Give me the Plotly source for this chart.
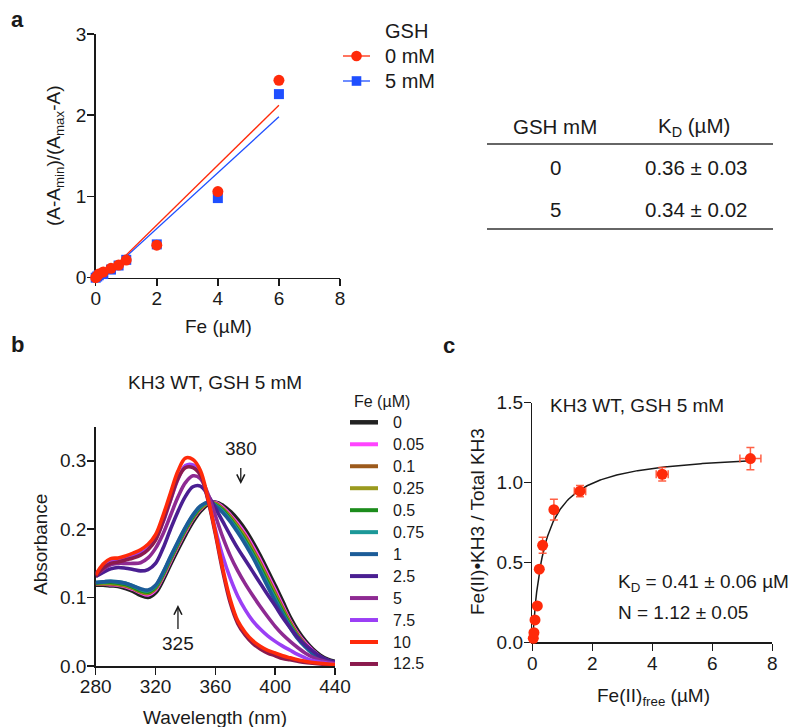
import numpy as np
import plotly.graph_objects as go

W, H = 790, 727


def PX(x):
    return x / W


def PY(y):
    return 1 - y / H


FONT = "Liberation Sans, Arial, Helvetica, sans-serif"
INK = "#1a1a1a"
RED = "#ff2a0a"
BLUE = "#1f4fff"

# ---------------- panel a : linearised titration ----------------
fe_titration = [0, 0.05, 0.1, 0.25, 0.5, 0.75, 1, 2, 4, 6]
ratio_gsh0 = [0.0, 0.02, 0.045, 0.07, 0.115, 0.156, 0.217, 0.40, 1.06, 2.43]
ratio_gsh5 = [0.0, 0.015, 0.03, 0.045, 0.10, 0.15, 0.22, 0.41, 0.98, 2.26]
gsh_legend = ["0 mM", "5 mM"]

# ---------------- table ----------------
table_headers = ["GSH mM", "K<sub>D</sub> (µM)"]
table_gsh = ["0", "5"]
table_kd = ["0.36 ± 0.03", "0.34 ± 0.02"]

# ---------------- panel b : spectra ----------------
wavelength = list(range(280, 441, 5))
abs_0 = [0.119, 0.119, 0.118, 0.117, 0.114, 0.110, 0.104, 0.101, 0.108, 0.127, 0.150, 0.172, 0.193, 0.212, 0.227, 0.237, 0.239,
         0.234, 0.225, 0.213, 0.198, 0.180, 0.160, 0.138, 0.116, 0.093, 0.070, 0.051, 0.036, 0.024, 0.015, 0.009, 0.006]
abs_0p05 = [0.120, 0.120, 0.119, 0.118, 0.116, 0.112, 0.107, 0.104, 0.111, 0.130, 0.153, 0.175, 0.196, 0.215, 0.229, 0.238, 0.239,
            0.232, 0.221, 0.208, 0.193, 0.175, 0.155, 0.133, 0.111, 0.088, 0.066, 0.048, 0.034, 0.023, 0.014, 0.008, 0.005]
abs_0p1 = [0.120, 0.120, 0.120, 0.119, 0.117, 0.113, 0.108, 0.106, 0.113, 0.132, 0.155, 0.177, 0.198, 0.216, 0.230, 0.238, 0.238,
           0.230, 0.219, 0.205, 0.190, 0.171, 0.151, 0.129, 0.107, 0.085, 0.064, 0.046, 0.032, 0.021, 0.013, 0.008, 0.005]
abs_0p25 = [0.121, 0.121, 0.121, 0.120, 0.118, 0.114, 0.109, 0.107, 0.114, 0.133, 0.156, 0.178, 0.199, 0.217, 0.231, 0.238, 0.237,
            0.229, 0.217, 0.203, 0.187, 0.168, 0.148, 0.126, 0.104, 0.082, 0.062, 0.044, 0.031, 0.020, 0.012, 0.007, 0.005]
abs_0p5 = [0.121, 0.122, 0.122, 0.121, 0.119, 0.115, 0.110, 0.108, 0.115, 0.134, 0.157, 0.179, 0.200, 0.218, 0.232, 0.239, 0.236,
           0.228, 0.215, 0.200, 0.184, 0.165, 0.145, 0.123, 0.101, 0.080, 0.060, 0.043, 0.030, 0.020, 0.012, 0.007, 0.005]
abs_0p75 = [0.122, 0.123, 0.124, 0.123, 0.121, 0.117, 0.112, 0.110, 0.117, 0.136, 0.159, 0.181, 0.202, 0.220, 0.233, 0.239, 0.235,
            0.226, 0.213, 0.198, 0.181, 0.162, 0.141, 0.119, 0.098, 0.077, 0.058, 0.042, 0.029, 0.019, 0.011, 0.007, 0.004]
abs_1 = [0.122, 0.123, 0.124, 0.123, 0.121, 0.117, 0.113, 0.111, 0.118, 0.137, 0.160, 0.182, 0.203, 0.221, 0.234, 0.239, 0.234,
         0.224, 0.211, 0.195, 0.178, 0.159, 0.138, 0.116, 0.095, 0.075, 0.056, 0.040, 0.028, 0.018, 0.011, 0.006, 0.004]
abs_2p5 = [0.131, 0.137, 0.142, 0.144, 0.143, 0.141, 0.139, 0.141, 0.150, 0.172, 0.200, 0.226, 0.248, 0.262, 0.263, 0.250, 0.231,
           0.211, 0.191, 0.172, 0.155, 0.138, 0.121, 0.104, 0.088, 0.071, 0.056, 0.042, 0.031, 0.022, 0.014, 0.009, 0.006]
abs_5 = [0.133, 0.141, 0.148, 0.150, 0.150, 0.150, 0.151, 0.158, 0.172, 0.193, 0.220, 0.247, 0.268, 0.278, 0.274, 0.252, 0.220,
         0.188, 0.161, 0.139, 0.120, 0.103, 0.087, 0.072, 0.058, 0.046, 0.036, 0.027, 0.019, 0.013, 0.009, 0.006, 0.004]
abs_7p5 = [0.135, 0.146, 0.154, 0.156, 0.158, 0.161, 0.165, 0.172, 0.186, 0.210, 0.242, 0.273, 0.293, 0.294, 0.280, 0.245, 0.200,
           0.160, 0.128, 0.102, 0.082, 0.066, 0.054, 0.044, 0.036, 0.029, 0.023, 0.017, 0.012, 0.008, 0.006, 0.004, 0.003]
abs_10 = [0.133, 0.149, 0.157, 0.158, 0.161, 0.165, 0.170, 0.178, 0.192, 0.220, 0.253, 0.285, 0.304, 0.302, 0.286, 0.246, 0.196,
          0.142, 0.097, 0.066, 0.049, 0.037, 0.029, 0.023, 0.019, 0.015, 0.012, 0.009, 0.007, 0.005, 0.004, 0.003, 0.002]
abs_12p5 = [0.131, 0.143, 0.150, 0.152, 0.155, 0.158, 0.162, 0.170, 0.184, 0.211, 0.243, 0.274, 0.290, 0.290, 0.279, 0.243, 0.193,
            0.138, 0.092, 0.062, 0.045, 0.033, 0.025, 0.019, 0.015, 0.011, 0.009, 0.007, 0.005, 0.004, 0.003, 0.002, 0.002]
spectra = [abs_0, abs_0p05, abs_0p1, abs_0p25, abs_0p5, abs_0p75, abs_1,
           abs_2p5, abs_5, abs_7p5, abs_10, abs_12p5]
fe_labels = ["0", "0.05", "0.1", "0.25", "0.5", "0.75", "1", "2.5", "5", "7.5", "10", "12.5"]
fe_colors = ["#222222", "#ff44ff", "#9c5a1c", "#9a9a1e", "#1c8c1c", "#1c9898", "#1c5c98",
             "#4a1f92", "#8e2a92", "#9b3ff5", "#ff2a0a", "#8b1a4d"]
# drawing order (indices into the lists above)
draw_order = [0, 1, 2, 3, 4, 5, 6, 7, 8, 9, 11, 10]

# ---------------- panel c : binding isotherm ----------------
fe_free = [0.033, 0.055, 0.09, 0.167, 0.233, 0.344, 0.72, 1.59, 4.33, 7.27]
fe_free_err = [0.01, 0.01, 0.01, 0.015, 0.02, 0.03, 0.04, 0.19, 0.2, 0.35]
bound_ratio = [0.025, 0.06, 0.14, 0.228, 0.458, 0.607, 0.83, 0.946, 1.052, 1.15]
bound_ratio_err = [0.005, 0.005, 0.01, 0.01, 0.01, 0.05, 0.065, 0.035, 0.042, 0.069]
fit_bmax, fit_kd = 1.2, 0.41

fig = go.Figure()

# panel a traces
series_a = [(ratio_gsh5, BLUE, "square", 10, gsh_legend[1]),
            (ratio_gsh0, RED, "circle", 11, gsh_legend[0])]
for ratio, color, sym, size, name in series_a:
    slope, intercept = np.polyfit(fe_titration, ratio, 1)
    xs = np.array([0, max(fe_titration)])
    fig.add_trace(go.Scatter(x=xs, y=slope * xs + intercept, mode="lines",
                             line=dict(color=color, width=1.3), xaxis="x", yaxis="y",
                             showlegend=False, hoverinfo="skip"))
for ratio, color, sym, size, name in series_a:
    fig.add_trace(go.Scatter(x=fe_titration, y=ratio, mode="markers", name=name,
                             marker=dict(color=color, symbol=sym, size=size, line=dict(width=0)),
                             xaxis="x", yaxis="y", cliponaxis=False, showlegend=False))

# panel b traces
for k in draw_order:
    vals, lab, col = spectra[k], fe_labels[k], fe_colors[k]
    fig.add_trace(go.Scatter(x=wavelength, y=vals, mode="lines", name=lab,
                             line=dict(color=col, width=4.8 if lab == "0" else 3.6, shape="spline", smoothing=1.0),
                             xaxis="x2", yaxis="y2", showlegend=False))

# panel c traces
xf = np.linspace(0, max(fe_free), 200)
fig.add_trace(go.Scatter(x=xf, y=fit_bmax * xf / (fit_kd + xf), mode="lines",
                         line=dict(color=INK, width=1.5), xaxis="x3", yaxis="y3",
                         showlegend=False, hoverinfo="skip"))
fig.add_trace(go.Scatter(x=fe_free, y=bound_ratio, mode="markers",
                         marker=dict(color=RED, size=11, line=dict(width=0)),
                         error_x=dict(type="data", array=fe_free_err, color="rgba(255,80,50,0.9)", thickness=1.5, width=4),
                         error_y=dict(type="data", array=bound_ratio_err, color="rgba(255,80,50,0.9)", thickness=1.5, width=4),
                         xaxis="x3", yaxis="y3", cliponaxis=False, showlegend=False))


def ax(domain, rng, tickvals, anchor, fmt=None, standoff=-3):
    d = dict(domain=domain, range=rng, tickvals=tickvals, anchor=anchor,
             showline=True, linecolor=INK, linewidth=1.5, ticks="outside", ticklen=7,
             tickwidth=1.5, tickcolor=INK, showgrid=False, zeroline=False, automargin=False,
             ticklabelstandoff=standoff,
             tickfont=dict(size=19, color=INK, family=FONT), layer="below traces", fixedrange=True)
    if fmt:
        d["tickformat"] = fmt
    return d


layout = dict(
    width=W, height=H, margin=dict(l=0, r=0, t=0, b=0, pad=0, autoexpand=False),
    paper_bgcolor="white", plot_bgcolor="white",
    font=dict(family=FONT, color=INK, size=19),
    showlegend=False,
    xaxis=ax([PX(95.7), PX(340)], [0, 8], [0, 2, 4, 6, 8], "y", standoff=-4),
    yaxis=ax([PY(277.7), PY(34)], [0, 3], [0, 1, 2, 3], "x"),
    xaxis2=ax([PX(95.7), PX(335)], [280, 440], [280, 320, 360, 400, 440], "y2", standoff=-4),
    yaxis2=ax([PY(666), PY(426.6)], [0, 0.35], [0, 0.1, 0.2, 0.3], "x2", ".1f"),
    xaxis3=ax([PX(532.3), PX(772.3)], [0, 8], [0, 2, 4, 6, 8], "y3", standoff=-4),
    yaxis3=ax([PY(642.3), PY(402.7)], [0, 1.5], [0, 0.5, 1.0, 1.5], "x3", ".1f"),
)
fig.update_layout(**layout)

ann = []
shapes = []


def text(x, y, s, size=19, xanchor="center", angle=0, bold=False):
    ann.append(dict(x=PX(x), y=PY(y), xref="paper", yref="paper", text=("<b>%s</b>" % s) if bold else s,
                    showarrow=False, xanchor=xanchor, yanchor="middle", textangle=angle,
                    font=dict(size=size, color=INK, family=FONT)))


# panel letters
text(17, 19, "a", 22, bold=True)
text(17, 344, "b", 22, bold=True)
text(449, 345, "c", 22, bold=True)

# axis titles
text(55, 156, "(A-A<sub>min</sub>)/(A<sub>max</sub>-A)", angle=-90)
text(218, 327, "Fe (µM)")
text(40, 545, "Absorbance", angle=-90)
text(215, 717, "Wavelength (nm)")
text(477, 522, "Fe(II)•KH3 / Total KH3", angle=-90)
text(653, 697, "Fe(II)<sub>free</sub> (µM)")

# titles / notes
text(215, 382, "KH3 WT, GSH 5 mM")
text(548, 405, "KH3 WT, GSH 5 mM", xanchor="left")
text(616, 583, "K<sub>D</sub> = 0.41 ± 0.06 µM", xanchor="left")
text(616, 612, "N = 1.12 ± 0.05", xanchor="left")

# table
text(555, 127, table_headers[0], 20.5)
text(694, 127, table_headers[1], 20.5)
for i, (g, k) in enumerate(zip(table_gsh, table_kd)):
    text(555, 167 + i * 43, g, 20.5)
    text(696, 167 + i * 43, k, 20.5)
for yy in (144, 229):
    shapes.append(dict(type="line", xref="paper", yref="paper", x0=PX(487), x1=PX(773), y0=PY(yy), y1=PY(yy),
                       line=dict(color="#333333", width=1.6)))

# legend a
text(383, 31, "GSH", 20, xanchor="left")
for i, (name, color, sym) in enumerate([(gsh_legend[0], RED, "circle"), (gsh_legend[1], BLUE, "rect")]):
    yy = 56 + i * 25
    shapes.append(dict(type="line", xref="paper", yref="paper", x0=PX(343), x1=PX(370), y0=PY(yy), y1=PY(yy),
                       line=dict(color=color, width=1.3)))
    r = 5.3 if sym == "circle" else 4.8
    shapes.append(dict(type=sym, xref="paper", yref="paper", x0=PX(356.5 - r), x1=PX(356.5 + r),
                       y0=PY(yy + r), y1=PY(yy - r), fillcolor=color, line=dict(width=0)))
    text(383, yy, name, 20, xanchor="left")

# legend b
text(352, 401, "Fe (µM)", 16, xanchor="left")
for i, (lab, col) in enumerate(zip(fe_labels, fe_colors)):
    yy = 422.3 + i * 21.97
    shapes.append(dict(type="line", xref="paper", yref="paper", x0=PX(350), x1=PX(378), y0=PY(yy), y1=PY(yy),
                       line=dict(color=col, width=4.5 if lab == "0" else 4)))
    text(391, yy, lab, 16, xanchor="left")

# arrows in panel b
ann.append(dict(x=377, y=0.266, xref="x2", yref="y2", text="380", showarrow=True, ax=0, ay=-36,
                arrowhead=5, arrowsize=1.2, arrowwidth=1.3, arrowcolor=INK, startstandoff=8,
                font=dict(size=19, color=INK, family=FONT)))
ann.append(dict(x=335, y=0.089, xref="x2", yref="y2", text="325", showarrow=True, ax=0, ay=38,
                arrowhead=5, arrowsize=1.2, arrowwidth=1.3, arrowcolor=INK, startstandoff=2,
                font=dict(size=19, color=INK, family=FONT)))

fig.update_layout(annotations=ann, shapes=shapes)
fig.write_html("out.html", config={"displayModeBar": False, "staticPlot": True},
               post_script="document.body.style.margin='0';document.body.style.overflow='hidden';")
